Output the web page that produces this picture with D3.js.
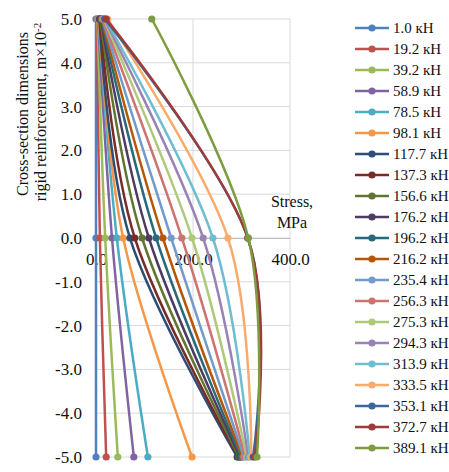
<!DOCTYPE html>
<html>
<head>
<meta charset="utf-8">
<script src="https://cdn.jsdelivr.net/npm/d3@7"></script>
<style>
  body { margin: 0; background: #fff; }
  svg { font-family: "Liberation Serif", "Times New Roman", serif; background: #fff; }
  svg text { font-family: "Liberation Serif", "Times New Roman", serif; }
</style>
</head>
<body>
<svg id="chart"></svg>
<script>
// load steps (legend)
const loads = ["1.0", "19.2", "39.2", "58.9", "78.5", "98.1", "117.7", "137.3", "156.6", "176.2",
  "196.2", "216.2", "235.4", "256.3", "275.3", "294.3", "313.9", "333.5", "353.1", "372.7", "389.1"];

// section heights where stress was measured, m x 10^-2
const depths = [5, 0, -5];

// stress (MPa) at top, middle and bottom of the section, one value per load
const stressTop = [0, 2, 3, 4, 5, 6, 7, 8, 9, 10, 11, 12, 13, 14, 16, 17, 19, 24, 18, 21, 115];
const stressMid = [0, 8, 19, 33, 43, 56, 70, 80, 95, 109, 124, 138, 155, 177, 198, 221, 241, 272, 313, 313, 314];
const stressBot = [0, 21, 45, 78, 107, 198, 291, 293, 295, 297, 299, 302, 305, 308, 311, 314, 317, 320, 324, 328, 332];

const colors = ["#4F81BD", "#C0504D", "#9BBB59", "#8064A2", "#4BACC6", "#F79646",
  "#2C4D75", "#772C2A", "#5F7530", "#4D3B62", "#276A7C", "#B65708",
  "#729ACA", "#CD7371", "#AFC97A", "#9983B5", "#6FBDD1", "#F9AB6B",
  "#3A679C", "#9F3B38", "#7E9C40"];

const xTicks = [0, 200, 400];
const yTicks = [-5, -4, -3, -2, -1, 0, 1, 2, 3, 4, 5];

const width = 449, height = 472;

const svg = d3.select("#chart")
  .attr("width", width)
  .attr("height", height);

const x = d3.scaleLinear().domain([0, 400]).range([96, 290]);
const y = d3.scaleLinear().domain([-5, 5]).range([457, 19]);

// gridlines
svg.append("g").selectAll("line")
  .data(yTicks)
  .join("line")
  .attr("x1", x(0)).attr("x2", x(400))
  .attr("y1", d => y(d)).attr("y2", d => y(d))
  .attr("stroke", "#d9d9d9");

svg.append("g").selectAll("line")
  .data(xTicks)
  .join("line")
  .attr("x1", d => x(d)).attr("x2", d => x(d))
  .attr("y1", y(5)).attr("y2", y(-5))
  .attr("stroke", "#d9d9d9");

// axes
const fmt = d => d.toFixed(1);

const xAxis = svg.append("g")
  .attr("transform", `translate(0,${y(0)})`)
  .call(d3.axisBottom(x).tickValues(xTicks).tickSize(0).tickPadding(15).tickFormat(fmt));
xAxis.select(".domain").attr("stroke", "#bfbfbf");

const yAxis = svg.append("g")
  .attr("transform", `translate(${x(0)},0)`)
  .call(d3.axisLeft(y).tickValues(yTicks).tickSize(0).tickPadding(14).tickFormat(fmt));
yAxis.select(".domain").attr("stroke", "#bfbfbf");

svg.selectAll(".tick text")
  .style("font-family", "'Liberation Serif', 'Times New Roman', serif")
  .style("font-size", "17px")
  .attr("fill", "#111");

// series
const line = d3.line()
  .x(p => x(p[0]))
  .y(p => y(p[1]))
  .curve(d3.curveCardinal.tension(0));

const series = loads.map((name, i) => ({
  name: name,
  color: colors[i],
  points: [[stressTop[i], depths[0]], [stressMid[i], depths[1]], [stressBot[i], depths[2]]]
}));

const sg = svg.append("g").selectAll("g")
  .data(series)
  .join("g");

sg.append("path")
  .attr("d", d => line(d.points))
  .attr("fill", "none")
  .attr("stroke", d => d.color)
  .attr("stroke-width", 2.5);

sg.selectAll("circle")
  .data(d => d.points.map(p => ({p: p, color: d.color})))
  .join("circle")
  .attr("cx", d => x(d.p[0]))
  .attr("cy", d => y(d.p[1]))
  .attr("r", 3.6)
  .attr("fill", d => d.color);

// axis titles
svg.append("text")
  .attr("x", 292).attr("y", 207)
  .attr("text-anchor", "middle")
  .attr("font-size", 16)
  .attr("fill", "#111")
  .text("Stress,");
svg.append("text")
  .attr("x", 292).attr("y", 228)
  .attr("text-anchor", "middle")
  .attr("font-size", 16)
  .attr("fill", "#111")
  .text("MPa");

svg.append("text")
  .attr("transform", "translate(22,114) rotate(-90)")
  .attr("text-anchor", "middle")
  .attr("dy", "0.35em")
  .attr("font-size", 16)
  .attr("fill", "#111")
  .text("Cross-section dimensions");

const t2 = svg.append("text")
  .attr("transform", "translate(40,112) rotate(-90)")
  .attr("text-anchor", "middle")
  .attr("dy", "0.35em")
  .attr("font-size", 16)
  .attr("fill", "#111");
t2.append("tspan").text("rigid reinforcement, m×10");
t2.append("tspan").attr("dy", "-0.45em").attr("font-size", 11).text("-2");

// legend
const lg = svg.append("g").selectAll("g")
  .data(series)
  .join("g")
  .attr("transform", (d, i) => `translate(0,${28 + 21 * i})`);

lg.append("line")
  .attr("x1", 355).attr("x2", 389)
  .attr("stroke", d => d.color)
  .attr("stroke-width", 2.5);

lg.append("circle")
  .attr("cx", 372)
  .attr("r", 3.6)
  .attr("fill", d => d.color);

lg.append("text")
  .attr("x", 393)
  .attr("dy", "0.35em")
  .attr("font-size", 15)
  .attr("fill", "#111")
  .text(d => d.name + " кН");
</script>
</body>
</html>
